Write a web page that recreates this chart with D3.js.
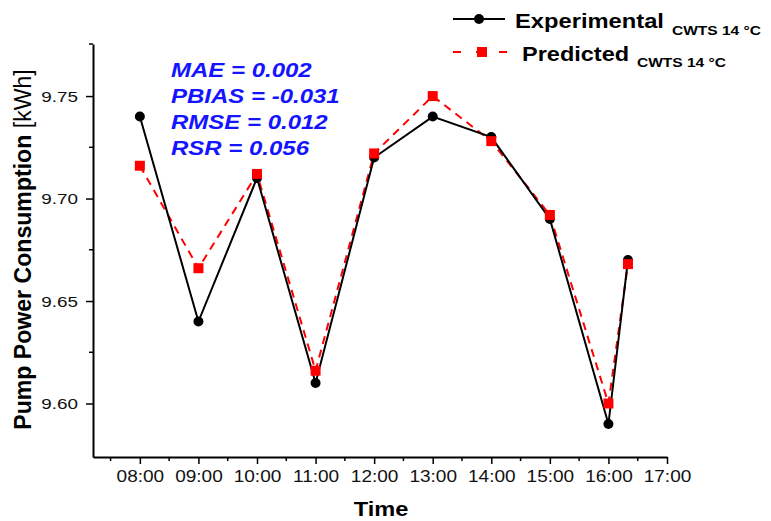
<!DOCTYPE html>
<html>
<head>
<meta charset="utf-8">
<script src="https://cdn.jsdelivr.net/npm/d3@7"></script>
<style>
  html, body { margin: 0; padding: 0; background: #fff; }
  svg { display: block; font-family: "Liberation Sans", Arial, sans-serif; }
</style>
</head>
<body>
<svg id="chart" width="771" height="521"></svg>
<script>
// Sampling times in decimal hours (last reading at 16:20)
const times = [8, 9, 10, 11, 12, 13, 14, 15, 16, 16 + 20 / 60];
const experimental = [9.74, 9.64, 9.71, 9.61, 9.72, 9.74, 9.73, 9.69, 9.59, 9.67];
const predicted = [9.716, 9.666, 9.712, 9.616, 9.722, 9.75, 9.728, 9.692, 9.60, 9.668];
const xTicks = [8, 9, 10, 11, 12, 13, 14, 15, 16, 17];
const yTicks = [9.60, 9.65, 9.70, 9.75];
const statsLines = ["MAE = 0.002", "PBIAS = -0.031", "RMSE = 0.012", "RSR = 0.056"];

const svg = d3.select("#chart");
const m = { left: 93, right: 667, top: 44, bottom: 457 };
const SX = 1.18; // wide lettering used throughout the figure

const x = d3.scaleLinear().domain([7.2, 17]).range([m.left, m.right]);
const y = d3.scaleLinear().domain([9.5739, 9.7754]).range([m.bottom, m.top]);

const fmtTime = h => String(Math.floor(h)).padStart(2, "0") + ":00";

// place a text at (px, py) and widen it horizontally around that point
function wideText(sel, px, py, sx) {
  return sel.attr("x", 0).attr("y", 0)
    .attr("transform", `translate(${px},${py}) scale(${sx},1)`);
}

// Axes: major ticks with labels, minor ticks in between
const xAxis = d3.axisBottom(x).tickValues(xTicks).tickFormat(fmtTime).tickSize(7).tickSizeOuter(0);
const gx = svg.append("g").attr("transform", `translate(0,${m.bottom})`).call(xAxis);
gx.selectAll(".tick text")
  .attr("font-size", 17).attr("fill", "#111")
  .attr("y", 0).attr("dy", 0)
  .attr("transform", "translate(0,25) scale(1.12,1)");
gx.append("g").selectAll("line")
  .data(d3.range(7.5, 17, 1))
  .join("line")
  .attr("x1", d => x(d)).attr("x2", d => x(d))
  .attr("y1", 0).attr("y2", 4).attr("stroke", "#000").attr("stroke-width", 1.5);

const yAxis = d3.axisLeft(y).tickValues(yTicks).tickFormat(d3.format(".2f")).tickSize(7).tickSizeOuter(0);
const gy = svg.append("g").attr("transform", `translate(${m.left},0)`).call(yAxis);
gy.selectAll(".tick text")
  .attr("font-size", 15.5).attr("fill", "#111")
  .attr("x", 0).attr("dy", "0.34em")
  .attr("transform", "translate(-15,0) scale(1.22,1)");
gy.append("g").selectAll("line")
  .data([9.625, 9.675, 9.725])
  .join("line")
  .attr("y1", d => y(d)).attr("y2", d => y(d))
  .attr("x1", 0).attr("x2", -4).attr("stroke", "#000").attr("stroke-width", 1.5);
// small cap at top of the y axis
gy.append("line").attr("x1", 0).attr("x2", -4).attr("y1", m.top).attr("y2", m.top)
  .attr("stroke", "#000").attr("stroke-width", 1.5);

[gx, gy].forEach(g => {
  g.selectAll(".domain").attr("stroke", "#000").attr("stroke-width", 2);
  g.selectAll(".tick line").attr("stroke", "#000").attr("stroke-width", 1.5);
});

// Axis titles
wideText(svg.append("text"), 381, 516, SX)
  .attr("text-anchor", "middle").attr("font-size", 20).attr("font-weight", "bold")
  .text("Time");

const yt = svg.append("text")
  .attr("transform", `translate(31,${(m.top + m.bottom) / 2 - 1}) rotate(-90) scale(1.1,1.1)`)
  .attr("text-anchor", "middle").attr("font-size", 21);
yt.append("tspan").attr("font-weight", "bold").text("Pump Power Consumption ");
yt.append("tspan").attr("font-weight", "normal").text("[kWh]");

// Series
const line = d3.line().x((d, i) => x(times[i])).y(d => y(d));

svg.append("path").datum(predicted)
  .attr("d", line).attr("fill", "none")
  .attr("stroke", "#ff0000").attr("stroke-width", 2).attr("stroke-dasharray", "8,6");

svg.append("path").datum(experimental)
  .attr("d", line).attr("fill", "none")
  .attr("stroke", "#000").attr("stroke-width", 2);

svg.append("g").selectAll("circle")
  .data(experimental).join("circle")
  .attr("cx", (d, i) => x(times[i])).attr("cy", d => y(d))
  .attr("r", 5).attr("fill", "#000");

const sq = 10;
svg.append("g").selectAll("rect")
  .data(predicted).join("rect")
  .attr("x", (d, i) => x(times[i]) - sq / 2).attr("y", d => y(d) - sq / 2)
  .attr("width", sq).attr("height", sq).attr("fill", "#ff0000");

// Goodness-of-fit statistics
svg.append("g").selectAll("text")
  .data(statsLines).join("text")
  .each(function (d, i) { wideText(d3.select(this), 171, 77 + i * 26, 1.2); })
  .attr("font-size", 20).attr("font-weight", "bold").attr("font-style", "italic")
  .attr("fill", "#1414ff")
  .text(d => d);

// Legend
const leg = svg.append("g");
leg.append("line").attr("x1", 453).attr("x2", 505).attr("y1", 19).attr("y2", 19)
  .attr("stroke", "#000").attr("stroke-width", 2);
leg.append("circle").attr("cx", 479).attr("cy", 19).attr("r", 5).attr("fill", "#000");
wideText(leg.append("text"), 515, 28, 1.13)
  .attr("font-size", 21).attr("font-weight", "bold").text("Experimental");
wideText(leg.append("text"), 672, 35, 1.15)
  .attr("font-size", 13.5).attr("font-weight", "bold").text("CWTS 14  °C");

leg.append("line").attr("x1", 453).attr("x2", 509).attr("y1", 52).attr("y2", 52)
  .attr("stroke", "#ff0000").attr("stroke-width", 2).attr("stroke-dasharray", "8,15");
leg.append("rect").attr("x", 477).attr("y", 47).attr("width", 10).attr("height", 10).attr("fill", "#ff0000");
wideText(leg.append("text"), 522, 61, 1.12)
  .attr("font-size", 21).attr("font-weight", "bold").text("Predicted");
wideText(leg.append("text"), 637, 67, 1.15)
  .attr("font-size", 13.5).attr("font-weight", "bold").text("CWTS 14 °C");
</script>
</body>
</html>
